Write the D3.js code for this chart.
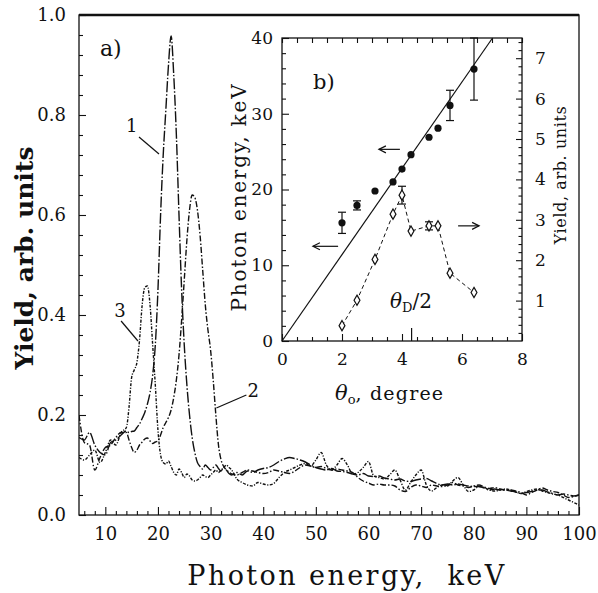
<!DOCTYPE html>
<html><head><meta charset="utf-8">
<script src="https://cdn.jsdelivr.net/npm/d3@7"></script>
<style>
body{margin:0;background:#fff}
svg{display:block}
text{font-family:"DejaVu Serif",serif;fill:#111}
</style>
</head><body>
<svg id="c" width="598" height="593"></svg>
<script>
// ---------- main panel a) data ----------
const energies = [5,6,7,8,9,10,11,12,13,14,
 14.5,15,15.5,16,16.5,17,17.5,18,18.5,19,19.5,20,20.5,21,21.5,22,22.5,23,23.5,24,24.5,25,25.5,26,26.5,27,27.5,28,28.5,29,29.5,30,30.5,31,31.5,32,32.5,33,33.5,34,
 35,36,37,38,39,40,41,42,43,44,45,46,47,48,49,50,51,52,53,54,55,56,57,58,59,60,61,62,63,64,65,66,67,68,69,70,71,72,73,74,75,76,77,78,79,80,81,82,83,84,85,86,87,88,89,90,91,92,93,94,95,96,97,98,99,100];
const curve1 = [0.155,0.15,0.165,0.14,0.125,0.12,0.145,0.15,0.16,0.168,
 0.165,0.167,0.168,0.175,0.182,0.193,0.205,0.222,0.245,0.28,0.34,0.45,0.6,0.72,0.81,0.9,0.958,0.88,0.76,0.6,0.45,0.34,0.26,0.2,0.155,0.125,0.105,0.097,0.092,0.1,0.095,0.09,0.095,0.1,0.093,0.088,0.095,0.09,0.083,0.08,
 0.085,0.08,0.088,0.085,0.09,0.093,0.095,0.1,0.107,0.112,0.115,0.113,0.11,0.106,0.1,0.095,0.092,0.09,0.093,0.088,0.087,0.085,0.082,0.08,0.083,0.078,0.077,0.078,0.074,0.072,0.07,0.072,0.068,0.067,0.07,0.072,0.073,0.068,0.063,0.06,0.062,0.06,0.062,0.06,0.058,0.057,0.057,0.054,0.05,0.052,0.05,0.05,0.048,0.046,0.043,0.045,0.047,0.05,0.05,0.046,0.043,0.04,0.042,0.04,0.038,0.04];
const curve2 = [0.2,0.145,0.14,0.09,0.115,0.135,0.14,0.155,0.165,0.165,
 0.15,0.135,0.125,0.13,0.14,0.146,0.152,0.154,0.148,0.143,0.146,0.148,0.16,0.175,0.185,0.195,0.21,0.235,0.27,0.32,0.39,0.47,0.55,0.61,0.64,0.635,0.61,0.56,0.49,0.42,0.37,0.33,0.27,0.2,0.14,0.11,0.097,0.09,0.086,0.082,
 0.08,0.085,0.09,0.088,0.085,0.083,0.085,0.09,0.088,0.085,0.083,0.088,0.095,0.1,0.098,0.095,0.097,0.093,0.09,0.092,0.09,0.088,0.085,0.075,0.068,0.064,0.06,0.062,0.06,0.06,0.058,0.05,0.047,0.055,0.06,0.058,0.055,0.06,0.058,0.057,0.06,0.065,0.06,0.058,0.055,0.058,0.06,0.056,0.053,0.055,0.052,0.05,0.05,0.048,0.045,0.04,0.045,0.05,0.054,0.05,0.047,0.045,0.04,0.035,0.037,0.04];
const curve3 = [0.115,0.11,0.12,0.13,0.105,0.125,0.15,0.14,0.165,0.175,
 0.215,0.275,0.29,0.305,0.35,0.42,0.455,0.458,0.42,0.34,0.26,0.17,0.12,0.105,0.102,0.108,0.097,0.085,0.08,0.092,0.085,0.075,0.082,0.078,0.07,0.068,0.07,0.075,0.08,0.077,0.075,0.08,0.085,0.09,0.085,0.09,0.095,0.1,0.095,0.09,
 0.072,0.065,0.06,0.058,0.065,0.062,0.06,0.063,0.075,0.085,0.09,0.095,0.1,0.103,0.098,0.11,0.125,0.1,0.09,0.1,0.113,0.1,0.082,0.085,0.095,0.107,0.078,0.075,0.072,0.08,0.09,0.07,0.05,0.065,0.08,0.09,0.06,0.048,0.055,0.06,0.058,0.068,0.075,0.06,0.047,0.05,0.057,0.055,0.05,0.048,0.05,0.052,0.05,0.046,0.043,0.047,0.05,0.052,0.048,0.045,0.042,0.04,0.035,0.03,0.025,0.02];
const xMajor = [10,20,30,40,50,60,70,80,90,100];
const xMinor = [6,8,12,14,16,18,22,24,26,28,32,34,36,38,42,44,46,48,52,54,56,58,62,64,66,68,72,74,76,78,82,84,86,88,92,94,96,98];
const yMajor = [0,0.2,0.4,0.6,0.8,1.0];
const yMinor = [0.04,0.08,0.12,0.16,0.24,0.28,0.32,0.36,0.44,0.48,0.52,0.56,0.64,0.68,0.72,0.76,0.84,0.88,0.92,0.96];
// curve labels: [text, labelE, labelY, leader from E,Y to E,Y]
const curveLabels = [["1",13.95,0.766,16.4,0.756,20.2,0.722],["3",11.7,0.396,13.0,0.388,16.2,0.348],["2",37.0,0.236,36.8,0.24,31.1,0.214]];

// ---------- inset b) data ----------
const theta = [2.0,2.5,3.1,3.7,4.0,4.3,4.9,5.2,5.6,6.4];
const photonE = [15.6,17.9,19.8,21.0,22.7,24.6,26.9,28.1,31.1,35.9];
const photonErr = [1.4,0.6,0,0,0,0,0,0,2.0,4.1];
const yieldB = [0.38,1.01,2.02,3.14,3.61,2.72,2.85,2.85,1.68,1.2];
const yieldErr = [0,0,0,0,0.22,0,0.1,0,0,0];
const fitSlope = 5.7;   // keV per degree, line through origin
const thetaDhalf = 4.32;
const ixMajor=[0,2,4,6,8], ixMinor=[0.5,1,1.5,2.5,3,3.5,4.5,5,5.5,6.5,7,7.5];
const iyMajor=[0,10,20,30,40], iyMinor=[2,4,6,8,12,14,16,18,22,24,26,28,32,34,36,38];
const irMajor=[1,2,3,4,5,6,7];
const irMinor=[0.2,0.4,0.6,0.8,1.2,1.4,1.6,1.8,2.2,2.4,2.6,2.8,3.2,3.4,3.6,3.8,4.2,4.4,4.6,4.8,5.2,5.4,5.6,5.8,6.2,6.4,6.6,6.8,7.2,7.4];
// arrows: [from theta, to theta, value, axis]
const arrows = [[3.93,3.23,25.3,"L"],[1.87,1.03,12.5,"L"],[5.87,6.57,2.85,"R"]];

const svg = d3.select("#c");
const x = d3.scaleLinear().domain([5,100]).range([79,579]);
const y = d3.scaleLinear().domain([0,1]).range([515,15]);

function styleAxis(g,fs){
  g.select(".domain").remove();
  g.selectAll("line").attr("stroke","#111").attr("stroke-width",1.1);
  g.selectAll("text").attr("fill","#111").style("font-family","DejaVu Serif").style("font-size",fs+"px");
}
// main axes
svg.append("g").attr("transform","translate(0,515)")
  .call(d3.axisBottom(x).tickValues(xMajor).tickSize(-8).tickPadding(12).tickFormat(d3.format("d")))
  .call(g=>styleAxis(g,18));
svg.append("g").attr("transform","translate(0,515)")
  .call(d3.axisBottom(x).tickValues(xMinor).tickSize(-4).tickFormat(""))
  .call(g=>styleAxis(g,18));
svg.append("g").attr("transform","translate(79,0)")
  .call(d3.axisLeft(y).tickValues(yMajor).tickSize(-7).tickPadding(13).tickFormat(d3.format(".1f")))
  .call(g=>styleAxis(g,18));
svg.append("g").attr("transform","translate(79,0)")
  .call(d3.axisLeft(y).tickValues(yMinor).tickSize(-4).tickFormat(""))
  .call(g=>styleAxis(g,18));
svg.append("rect").attr("x",x(5)).attr("y",y(1)).attr("width",x(100)-x(5)).attr("height",y(0)-y(1))
  .attr("fill","none").attr("stroke","#111").attr("stroke-width",1.3);
svg.append("line").attr("x1",x(5)).attr("x2",x(100)).attr("y1",y(1)).attr("y2",y(1)).attr("stroke","#111").attr("stroke-width",2.5);

svg.append("clipPath").attr("id","clipA").append("rect")
  .attr("x",x(5)).attr("y",y(1)).attr("width",x(100)-x(5)).attr("height",y(0)-y(1));
const line = d3.line().x((d,i)=>x(energies[i])).y(d=>y(d)).curve(d3.curveMonotoneX);
const series = [[curve1,"11,2,1.5,2"],[curve2,"6,2,1.5,2"],[curve3,"3,1.5,1.2,1.5"]];
svg.append("g").attr("clip-path","url(#clipA)").selectAll("path").data(series).join("path")
  .attr("d",d=>line(d[0])).attr("fill","none").attr("stroke","#111").attr("stroke-width",1.4)
  .attr("stroke-dasharray",d=>d[1]);

curveLabels.forEach(c=>{
  svg.append("text").attr("x",x(c[1])).attr("y",y(c[2])).style("font-size","18px").text(c[0]);
  svg.append("line").attr("x1",x(c[3])).attr("y1",y(c[4])).attr("x2",x(c[5])).attr("y2",y(c[6]))
    .attr("stroke","#111").attr("stroke-width",1.2);
});
svg.append("text").attr("x",100).attr("y",56).style("font-size","22px").text("a)");

svg.append("text").attr("x",347).attr("y",585).attr("text-anchor","middle")
  .style("font-size","27px").style("letter-spacing","2.4px").style("white-space","pre").text("Photon energy,  keV");
svg.append("text").attr("transform","translate(33,258) rotate(-90)").attr("text-anchor","middle")
  .style("font-size","25px").style("font-weight","bold").text("Yield, arb. units");

// ---------- inset ----------
const xi = d3.scaleLinear().domain([0,8]).range([282,522]);
const yl = d3.scaleLinear().domain([0,40]).range([341,38]);
const yr = d3.scaleLinear().domain([0,7.5]).range([341,38]);
const ins = svg.append("g");
ins.append("rect").attr("x",xi(0)).attr("y",yl(40)).attr("width",xi(8)-xi(0)).attr("height",yl(0)-yl(40))
  .attr("fill","#fff").attr("stroke","#111").attr("stroke-width",1.3);
ins.append("g").attr("transform","translate(0,341)")
  .call(d3.axisBottom(xi).tickValues(ixMajor).tickSize(-7).tickPadding(12).tickFormat(d3.format("d"))).call(g=>styleAxis(g,17));
ins.append("g").attr("transform","translate(0,341)")
  .call(d3.axisBottom(xi).tickValues(ixMinor).tickSize(-4).tickFormat("")).call(g=>styleAxis(g,17));
ins.append("g").attr("transform","translate(0,38)")
  .call(d3.axisTop(xi).tickValues(ixMajor.concat(ixMinor)).tickSize(-5).tickFormat("")).call(g=>styleAxis(g,17));
ins.append("g").attr("transform","translate(282,0)")
  .call(d3.axisLeft(yl).tickValues(iyMajor).tickSize(-7).tickPadding(9).tickFormat(d3.format("d"))).call(g=>styleAxis(g,17));
ins.append("g").attr("transform","translate(282,0)")
  .call(d3.axisLeft(yl).tickValues(iyMinor).tickSize(-4).tickFormat("")).call(g=>styleAxis(g,17));
ins.append("g").attr("transform","translate(522,0)")
  .call(d3.axisRight(yr).tickValues(irMajor).tickSize(-6).tickPadding(13).tickFormat(d3.format("d"))).call(g=>styleAxis(g,17));
ins.append("g").attr("transform","translate(522,0)")
  .call(d3.axisRight(yr).tickValues(irMinor).tickSize(-3.5).tickFormat("")).call(g=>styleAxis(g,17));
ins.append("line").attr("x1",xi(thetaDhalf)).attr("x2",xi(thetaDhalf)).attr("y1",yl(0)).attr("y2",yl(0)-13)
  .attr("stroke","#111").attr("stroke-width",1.2);

// fit line
ins.append("line").attr("x1",xi(0)).attr("y1",yl(0)).attr("x2",xi(40/fitSlope)).attr("y2",yl(40))
  .attr("stroke","#111").attr("stroke-width",1.2);
// yield dashed line
ins.append("path").attr("d",d3.line().x((d,i)=>xi(theta[i])).y(d=>yr(d))(yieldB))
  .attr("fill","none").attr("stroke","#111").attr("stroke-width",1).attr("stroke-dasharray","4,3");
// error bars
function errBar(xv,lo,hi,sc){
  const g=ins.append("g").attr("stroke","#111").attr("stroke-width",1.2);
  g.append("line").attr("x1",xi(xv)).attr("x2",xi(xv)).attr("y1",sc(lo)).attr("y2",sc(hi));
  [lo,hi].forEach(v=>g.append("line").attr("x1",xi(xv)-4).attr("x2",xi(xv)+4).attr("y1",sc(v)).attr("y2",sc(v)));
}
theta.forEach((t,i)=>{ if(photonErr[i]>0) errBar(t,photonE[i]-photonErr[i],photonE[i]+photonErr[i],yl); });
theta.forEach((t,i)=>{ if(yieldErr[i]>0) errBar(t,yieldB[i]-yieldErr[i],yieldB[i]+yieldErr[i],yr); });
ins.selectAll("circle.p").data(photonE).join("circle").attr("class","p")
  .attr("cx",(d,i)=>xi(theta[i])).attr("cy",d=>yl(d)).attr("r",3.6).attr("fill","#111");
ins.selectAll("path.dm").data(yieldB).join("path").attr("class","dm")
  .attr("transform",(d,i)=>`translate(${xi(theta[i])},${yr(d)})`)
  .attr("d",d3.symbol(d3.symbolDiamond,30)).attr("fill","#fff").attr("stroke","#111").attr("stroke-width",1.2);
// arrows
arrows.forEach(a=>{
  const sc = a[3]==="L"?yl:yr;
  const x1=xi(a[0]), x2=xi(a[1]), yy=sc(a[2]), dir = x2<x1?1:-1;
  const g=ins.append("g").attr("stroke","#111").attr("stroke-width",1.2).attr("fill","none");
  g.append("line").attr("x1",x1).attr("x2",x2).attr("y1",yy).attr("y2",yy);
  g.append("path").attr("d",`M${x2+dir*7},${yy-3.5}L${x2},${yy}L${x2+dir*7},${yy+3.5}`);
});
ins.append("text").attr("x",313).attr("y",89).style("font-size","21px").text("b)");
const td = ins.append("text").attr("x",390).attr("y",308).style("font-size","20px");
td.append("tspan").style("font-style","italic").text("θ");
td.append("tspan").attr("dy",4).style("font-size","13px").text("D");
td.append("tspan").attr("dy",-4).text("/2");
const tx = ins.append("text").attr("x",335).attr("y",400).style("font-size","19px");
tx.append("tspan").style("font-style","italic").style("font-size","21px").text("θ");
tx.append("tspan").attr("dy",4).style("font-size","13px").text("o");
tx.append("tspan").attr("dy",-4).style("letter-spacing","1.2px").text(", degree");
ins.append("text").attr("transform","translate(246,197) rotate(-90)").attr("text-anchor","middle")
  .style("font-size","20px").style("letter-spacing","1.8px").text("Photon energy, keV");
ins.append("text").attr("transform","translate(566,175) rotate(-90)").attr("text-anchor","middle")
  .style("font-size","16px").style("letter-spacing","0.6px").text("Yield, arb. units");
</script>
</body></html>
